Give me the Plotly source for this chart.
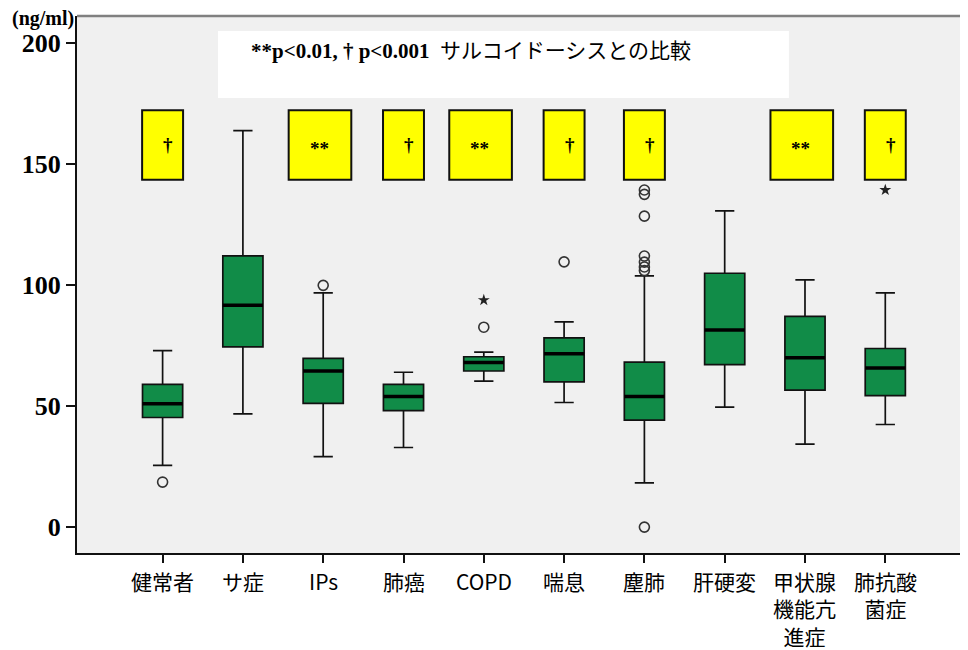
import plotly.graph_objects as go

# ---- data ----
categories = ["健常者", "サ症", "IPs", "肺癌", "COPD", "喘息", "塵肺", "肝硬変", "甲状腺機能亢進症", "肺抗酸菌症"]
label_lines = [["健常者"], ["サ症"], ["IPs"], ["肺癌"], ["COPD"], ["喘息"], ["塵肺"], ["肝硬変"],
               ["甲状腺", "機能亢", "進症"], ["肺抗酸", "菌症"]]
upper_fence = [72.9, 163.8, 96.8, 64.0, 72.3, 84.8, 103.8, 130.7, 102.2, 96.8]
q3 = [59.0, 112.1, 69.7, 59.0, 70.4, 78.2, 68.2, 104.9, 87.1, 73.8]
median = [51.0, 91.7, 64.5, 54.0, 68.0, 71.6, 54.0, 81.5, 70.0, 65.7]
q1 = [45.3, 74.5, 51.1, 48.1, 64.5, 60.0, 44.2, 67.1, 56.6, 54.3]
lower_fence = [25.5, 46.8, 29.1, 32.9, 60.3, 51.5, 18.3, 49.6, 34.3, 42.4]

outlier_cat = ["健常者", "IPs", "COPD", "喘息", "塵肺", "塵肺", "塵肺", "塵肺", "塵肺", "塵肺", "塵肺", "塵肺"]
outlier_val = [18.6, 99.9, 82.6, 109.6, 139.3, 137.5, 128.5, 112.0, 109.5, 107.5, 106.0, 0.0]
extreme_cat = ["COPD", "肺抗酸菌症"]
extreme_val = [93.8, 139.3]

sig_labels = ["†", "", "**", "†", "**", "†", "†", "", "**", "†"]
sig_low, sig_high = 143.5, 172.3

y_ticks = [0, 50, 100, 150, 200]
legend_text = "<b>**p&lt;0.01, † p&lt;0.001</b>  サルコイドーシスとの比較"
unit_text = "<b>(ng/ml)</b>"

# ---- figure ----
fig = go.Figure()

fig.add_trace(go.Box(
    x=categories, q1=q1, median=median, q3=q3,
    lowerfence=lower_fence, upperfence=upper_fence,
    width=0.5, whiskerwidth=0.48,
    fillcolor="#118c48", line=dict(color="#111111", width=1.7),
    boxpoints=False, showlegend=False, hoverinfo="skip"))

# thick median line overlay
fig.add_trace(go.Box(
    x=categories, q1=median, median=median, q3=median,
    lowerfence=median, upperfence=median,
    width=0.5, whiskerwidth=0,
    fillcolor="rgba(0,0,0,0)", line=dict(color="#000000", width=3.5),
    boxpoints=False, showlegend=False, hoverinfo="skip"))

fig.add_trace(go.Scatter(
    x=outlier_cat, y=outlier_val, mode="markers",
    marker=dict(symbol="circle-open", size=10, color="#333333", line=dict(width=1.6, color="#333333")),
    showlegend=False, hoverinfo="skip"))

fig.add_trace(go.Scatter(
    x=extreme_cat, y=extreme_val, mode="markers",
    marker=dict(symbol="star", size=9, color="#222222", line=dict(width=0)),
    showlegend=False, hoverinfo="skip"))

shapes = []
annotations = []

# significance boxes
for i, lab in enumerate(sig_labels):
    if not lab:
        continue
    half = 0.39 if lab == "**" else 0.255
    off = -0.04 if lab == "**" else 0.0
    shapes.append(dict(type="rect", xref="x", yref="y",
                       x0=i + off - half, x1=i + off + half, y0=sig_low, y1=sig_high,
                       fillcolor="#ffff00", line=dict(color="#111111", width=2), layer="above"))
    annotations.append(dict(x=i + (0.07 if lab == "†" else -0.05),
                            y=(sig_low + sig_high) / 2 + (0.0 if lab == "†" else -1.5),
                            xref="x", yref="y",
                            text=lab, showarrow=False, xanchor="center", yanchor="middle",
                            font=dict(family="Liberation Serif", size=19, color="#000000", weight="bold")))

# legend box
shapes.append(dict(type="rect", xref="x", yref="y", x0=0.69, x1=7.8, y0=177.3, y1=205.0,
                   fillcolor="#ffffff", line=dict(width=0), layer="above"))
annotations.append(dict(x=1.08, y=196.8, xref="x", yref="y", text=legend_text, showarrow=False,
                        xanchor="left", yanchor="middle",
                        font=dict(family="Liberation Serif, Noto Sans CJK JP", size=21, color="#000000")))

# top border
shapes.append(dict(type="line", xref="paper", yref="paper", x0=0, x1=1, y0=1, y1=1,
                   line=dict(color="#808080", width=2.5)))

# unit label
annotations.append(dict(x=0, y=1, xref="paper", yref="paper", text=unit_text, showarrow=False,
                        xanchor="right", yanchor="middle", xshift=-1, yshift=-2,
                        font=dict(family="Liberation Serif", size=20, color="#000000")))

# x category labels (multi-line)
lab_size = 21
for i, lines in enumerate(label_lines):
    n = len(lines)
    annotations.append(dict(x=i, y=0, xref="x", yref="paper", text="<br>".join(lines), showarrow=False,
                            xanchor="center", yanchor="middle",
                            yshift=-(28 + (n - 1) * 1.3 * lab_size / 2),
                            font=dict(family="Noto Sans CJK JP", size=lab_size, color="#000000")))

fig.update_layout(
    width=968, height=650,
    margin=dict(l=69, r=8, t=8, b=105),
    paper_bgcolor="#ffffff", plot_bgcolor="#f0f0f0",
    boxmode="overlay",
    shapes=shapes, annotations=annotations,
    showlegend=False,
)
fig.update_xaxes(type="category", categoryorder="array", categoryarray=categories,
                 range=[-1.066, 10.03], showgrid=False, zeroline=False,
                 showline=True, linecolor="#111111", linewidth=2,
                 ticks="outside", ticklen=8, tickwidth=1.5, tickcolor="#111111",
                 showticklabels=False)
fig.update_yaxes(range=[-10.7, 211.2], tickvals=y_ticks, showgrid=False, zeroline=False,
                 showline=True, linecolor="#111111", linewidth=2,
                 ticks="outside", ticklen=9, tickwidth=1.5, tickcolor="#111111",
                 tickfont=dict(family="Liberation Serif", size=26, color="#000000", weight="bold"))

fig.write_html("out.html")
